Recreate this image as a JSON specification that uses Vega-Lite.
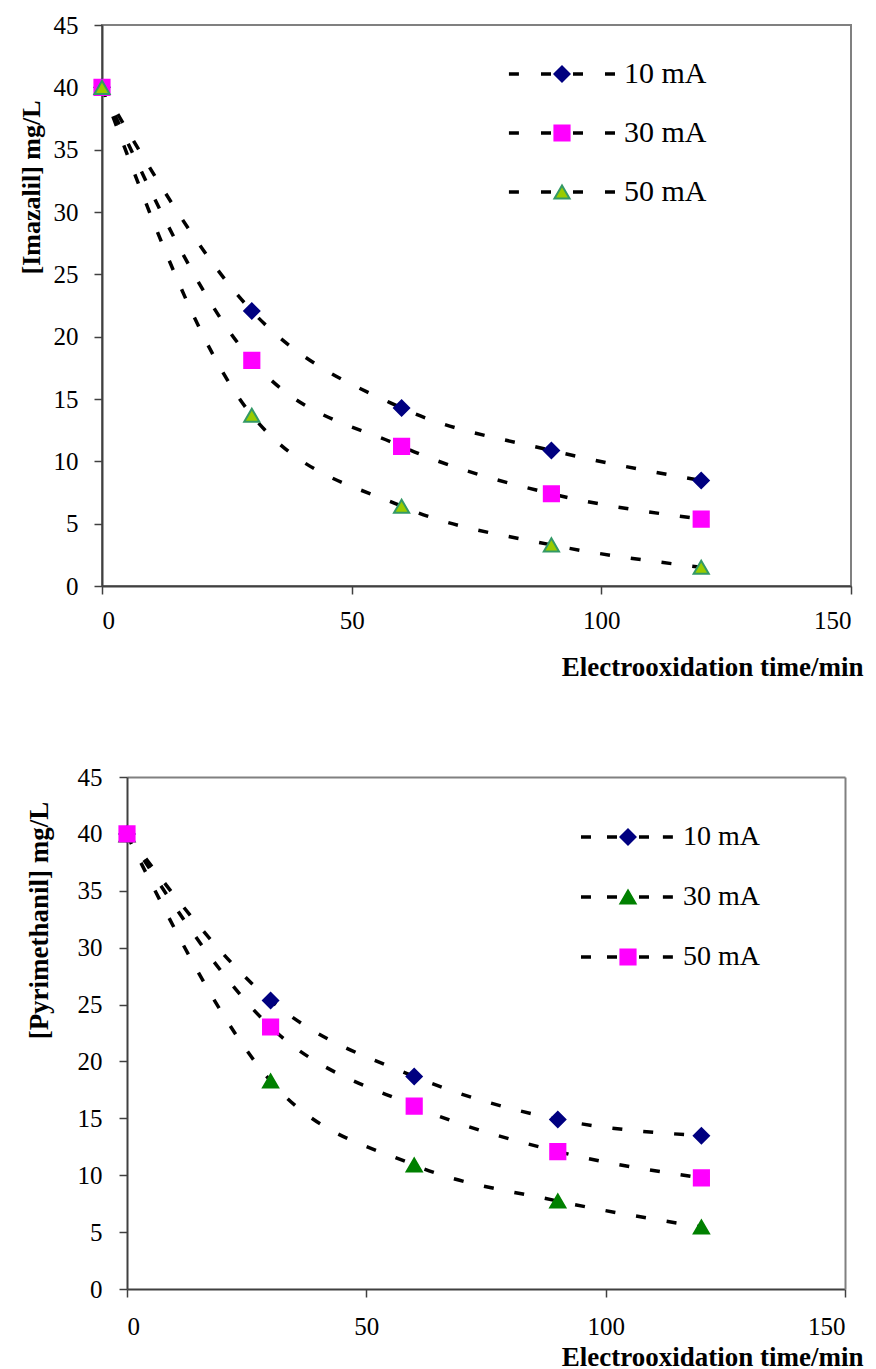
{
  "$schema": "https://vega.github.io/schema/vega-lite/v6.json",
  "padding": {"left": 17, "top": 12, "right": 5, "bottom": 0},
  "spacing": 84,
  "background": "white",
  "resolve": {"scale": {"color": "independent", "shape": "independent", "stroke": "independent", "strokeDash": "independent", "x": "independent", "y": "independent"}, "legend": {"color": "independent", "shape": "independent", "stroke": "independent", "strokeDash": "independent"}},
  "datasets": {
    "imazalil": [
      {"series": "10 mA", "t": 0, "c": 40}, {"series": "10 mA", "t": 30, "c": 22.06}, {"series": "10 mA", "t": 60, "c": 14.28}, {"series": "10 mA", "t": 90, "c": 10.87}, {"series": "10 mA", "t": 120, "c": 8.46},
      {"series": "30 mA", "t": 0, "c": 40}, {"series": "30 mA", "t": 30, "c": 18.1}, {"series": "30 mA", "t": 60, "c": 11.2}, {"series": "30 mA", "t": 90, "c": 7.4}, {"series": "30 mA", "t": 120, "c": 5.37},
      {"series": "50 mA", "t": 0, "c": 40}, {"series": "50 mA", "t": 30, "c": 13.7}, {"series": "50 mA", "t": 60, "c": 6.4}, {"series": "50 mA", "t": 90, "c": 3.3}, {"series": "50 mA", "t": 120, "c": 1.5}
    ],
    "pyrimethanil": [
      {"series": "10 mA", "t": 0, "c": 40}, {"series": "10 mA", "t": 30, "c": 25.36}, {"series": "10 mA", "t": 60, "c": 18.68}, {"series": "10 mA", "t": 90, "c": 14.9}, {"series": "10 mA", "t": 120, "c": 13.47},
      {"series": "30 mA", "t": 0, "c": 39.9}, {"series": "30 mA", "t": 30, "c": 18.28}, {"series": "30 mA", "t": 60, "c": 10.9}, {"series": "30 mA", "t": 90, "c": 7.73}, {"series": "30 mA", "t": 120, "c": 5.45},
      {"series": "50 mA", "t": 0, "c": 40}, {"series": "50 mA", "t": 30, "c": 23.03}, {"series": "50 mA", "t": 60, "c": 16.08}, {"series": "50 mA", "t": 90, "c": 12.08}, {"series": "50 mA", "t": 120, "c": 9.76}
    ]
  },
  "config": {
    "view": {"stroke": "#808080", "strokeWidth": 2},
    "font": "Liberation Serif",
    "axis": {
      "labelFont": "Liberation Serif", "labelFontSize": 25, "labelColor": "#000000",
      "titleFont": "Liberation Serif", "titleFontWeight": "bold", "titleColor": "#000000",
      "domainColor": "#404040", "domainWidth": 2, "tickColor": "#404040", "tickWidth": 1.5, "tickSize": 8,
      "grid": false
    },
    "legend": {"padding": 0, "labelFont": "Liberation Serif", "labelColor": "#000000"}
  },
  "vconcat": [
    {
      "width": 749, "height": 561,
      "data": {"name": "imazalil"},
      "encoding": {
        "x": {"field": "t", "type": "quantitative", "scale": {"domain": [0, 150], "nice": false},
          "axis": {"values": [0, 50, 100, 150], "labelPadding": 14, "title": "Electrooxidation time/min", "titleFontSize": 27, "titleAlign": "right", "titleX": 761, "titleY": 89, "titleBaseline": "alphabetic"}},
        "y": {"field": "c", "type": "quantitative", "scale": {"domain": [0, 45], "nice": false},
          "axis": {"values": [0, 5, 10, 15, 20, 25, 30, 35, 40, 45], "labelPadding": 16, "title": "[Imazalil] mg/L", "titleFontSize": 26, "titlePadding": 9, "titleY": 162}}
      },
      "layer": [
        {
          "mark": {"type": "line", "color": "#000000", "strokeWidth": 3.5, "interpolate": "monotone"},
          "encoding": {
            "strokeDash": {"field": "series", "type": "nominal",
              "scale": {"domain": ["10 mA", "30 mA", "50 mA"], "range": [[10, 21], [10, 21], [10, 21]]},
              "legend": {"title": null, "orient": "none", "legendX": 445, "legendY": 34, "labelFontSize": 30, "labelOffset": 47, "labelOpacity": 0, "rowPadding": 29,
                "symbolSize": 230, "symbolType": "M-7,0H-5.54M-2.77,0H-1.32M1.45,0H2.9M5.67,0H7.12", "symbolStrokeColor": "#000000", "symbolStrokeWidth": 3.5, "symbolFillColor": "transparent"}}
          }
        },
        {
          "mark": {"type": "point", "filled": true, "size": 230, "strokeWidth": 2, "opacity": 1},
          "encoding": {
            "color": {"field": "series", "type": "nominal", "scale": {"range": ["#000080", "#FF00FF", "#99CC00"]},
              "legend": {"title": null, "orient": "none", "legendX": 445, "legendY": 34, "labelFontSize": 30, "labelOffset": 47, "rowPadding": 29, "symbolSize": 230, "symbolStrokeWidth": 2, "symbolOpacity": 1}},
            "shape": {"field": "series", "type": "nominal", "scale": {"range": ["diamond", "square", "triangle-up"]}},
            "stroke": {"field": "series", "type": "nominal", "scale": {"range": ["#000080", "#FF00FF", "#339966"]}}
          }
        }
      ]
    },
    {
      "width": 743, "height": 512,
      "view": {"stroke": null},
      "data": {"name": "pyrimethanil"},
      "resolve": {"axis": {"x": "independent", "y": "independent"}},
      "layer": [
        {
          "mark": {"type": "line", "color": "#000000", "strokeWidth": 3.5, "interpolate": "monotone"},
          "encoding": {
            "x": {"field": "t", "type": "quantitative", "scale": {"domain": [0, 150], "nice": false, "range": [25, 743]},
              "axis": {"values": [0, 50, 100, 150], "labelPadding": 17, "title": "Electrooxidation time/min", "titleFontSize": 27, "titleAlign": "right", "titleX": 761, "titleY": 76, "titleBaseline": "alphabetic"}},
            "y": {"field": "c", "type": "quantitative", "scale": {"domain": [0, 45], "nice": false},
              "axis": {"values": [0, 5, 10, 15, 20, 25, 30, 35, 40, 45], "offset": -25, "labelPadding": 17, "title": "[Pyrimethanil] mg/L", "titleFontSize": 27, "titlePadding": 24, "titleY": 143}},
            "strokeDash": {"field": "series", "type": "nominal",
              "scale": {"domain": ["10 mA", "30 mA", "50 mA"], "range": [[10, 21], [10, 21], [10, 21]]},
              "legend": {"title": null, "orient": "none", "legendX": 512, "legendY": 46, "labelFontSize": 28, "labelOffset": 41, "labelOpacity": 0, "rowPadding": 32,
                "symbolSize": 230, "symbolType": "M-6.2,0H-4.75M-2.77,0H-1.32M1.45,0H2.9M4.6,0H6.05", "symbolStrokeColor": "#000000", "symbolStrokeWidth": 3.5, "symbolFillColor": "transparent"}}
          }
        },
        {
          "mark": {"type": "point", "filled": true, "size": 230, "strokeWidth": 2, "opacity": 1},
          "encoding": {
            "x": {"field": "t", "type": "quantitative",
              "axis": {"orient": "top", "labels": false, "ticks": false, "title": null, "domainColor": "#808080", "domainWidth": 2}},
            "y": {"field": "c", "type": "quantitative",
              "axis": {"orient": "right", "labels": false, "ticks": false, "title": null, "domainColor": "#808080", "domainWidth": 2}},
            "color": {"field": "series", "type": "nominal", "scale": {"range": ["#000080", "#008000", "#FF00FF"]},
              "legend": {"title": null, "orient": "none", "legendX": 512, "legendY": 46, "labelFontSize": 28, "labelOffset": 41, "rowPadding": 32, "symbolSize": 230, "symbolStrokeWidth": 2, "symbolOpacity": 1}},
            "shape": {"field": "series", "type": "nominal", "scale": {"range": ["diamond", "triangle-up", "square"]}},
            "stroke": {"field": "series", "type": "nominal", "scale": {"range": ["#000080", "#008000", "#FF00FF"]}}
          }
        }
      ]
    }
  ]
}
